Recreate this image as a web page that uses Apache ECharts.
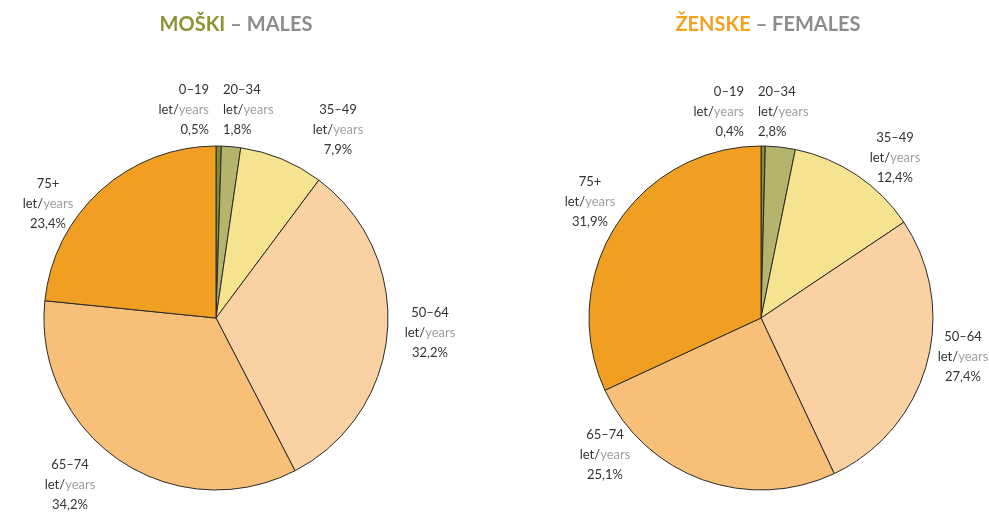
<!DOCTYPE html>
<html>
<head>
<meta charset="utf-8">
<script src="https://cdn.jsdelivr.net/npm/echarts@6/dist/echarts.min.js"></script>
<style>
  html, body { margin: 0; padding: 0; background: #fff; }
  #charts { width: 989px; height: 512px; }
</style>
</head>
<body>
<div id="charts"></div>
<script>
var ageGroups = ['0–19', '20–34', '35–49', '50–64', '65–74', '75+'];
var malesShare = [0.5, 1.8, 7.9, 32.2, 34.2, 23.4];
var femalesShare = [0.4, 2.8, 12.4, 27.4, 25.1, 31.9];
var sliceColors = ['#868b30', '#b4b46c', '#f5e390', '#f9d1a2', '#f7bf78', '#f09f22'];

// where each label block sits (anchor x, middle y, alignment)
var labelSpots = [
    [[209, 110, 'right'], [223, 110, 'left'], [338, 130, 'center'], [430, 333, 'center'], [70, 485, 'center'], [48, 204, 'center']],
    [[744, 112, 'right'], [758, 112, 'left'], [895, 158, 'center'], [963, 357, 'center'], [605, 455, 'center'], [590, 202, 'center']]
];

function pieData(values) {
    return ageGroups.map(function (g, i) {
        return { name: g, value: values[i], itemStyle: { color: sliceColors[i] } };
    });
}

function pieSeries(values, center, idx) {
    return {
        type: 'pie',
        center: center,
        radius: 172,
        startAngle: 90,
        clockwise: true,
        animation: false,
        silent: true,
        data: pieData(values),
        itemStyle: { borderColor: '#2a2a2a', borderWidth: 1 },
        label: {
            show: true,
            position: 'inside',
            overflow: 'none',
            formatter: function (p) {
                return '{a|' + p.name + '}\n{a|let/}{b|years}\n{a|' + p.value.toFixed(1).replace('.', ',') + '%}';
            },
            rich: {
                a: { color: '#333', fontSize: 13, fontFamily: 'Lato', lineHeight: 20 },
                b: { color: '#a0a0a0', fontSize: 13, fontFamily: 'Lato', lineHeight: 20 }
            }
        },
        labelLine: { show: false },
        labelLayout: function (params) {
            var s = labelSpots[idx][params.dataIndex];
            return { x: s[0], y: s[1], align: s[2], verticalAlign: 'middle', hideOverlap: false };
        }
    };
}

function initECharts(myChart) {
    var titleText = {
        fontSize: 20,
        fontWeight: 'bold',
        fontFamily: 'Lato'
    };
    var option = {
        backgroundColor: '#fff',
        title: [
            {
                text: '{m|MOŠKI} {g|– MALES}',
                left: 231,
                top: 10,
                textAlign: 'center',
                textStyle: {
                    rich: {
                        m: Object.assign({ color: '#8e9433' }, titleText),
                        g: Object.assign({ color: '#8c8c8c' }, titleText)
                    }
                }
            },
            {
                text: '{f|ŽENSKE} {g|– FEMALES}',
                left: 763,
                top: 10,
                textAlign: 'center',
                textStyle: {
                    rich: {
                        f: Object.assign({ color: '#f4a11f' }, titleText),
                        g: Object.assign({ color: '#8c8c8c' }, titleText)
                    }
                }
            }
        ],
        series: [
            pieSeries(malesShare, [216, 318], 0),
            pieSeries(femalesShare, [761, 318], 1)
        ]
    };
    myChart.setOption(option);
}

window.onload = function () {
    var myChart = echarts.init(document.getElementById('charts'));
    initECharts(myChart);
};
</script>
</body>
</html>
